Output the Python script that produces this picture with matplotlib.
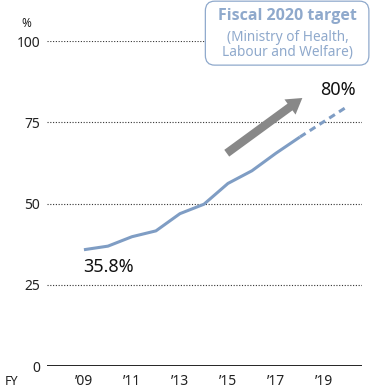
import matplotlib
matplotlib.use("Agg")
import matplotlib.pyplot as plt
from matplotlib.patches import FancyBboxPatch

plt.rcParams['font.family'] = ['Noto Sans', 'DejaVu Sans']

years = [2009, 2010, 2011, 2012, 2013, 2014, 2015, 2016, 2017, 2018]
share = [35.8, 36.9, 39.8, 41.6, 46.9, 49.8, 56.2, 60.1, 65.5, 70.5]
target_years = [2018, 2020]
target_share = [70.5, 80.0]
yticks = [0, 25, 50, 75, 100]
xticks = [2009, 2011, 2013, 2015, 2017, 2019]
xtick_labels = ["\u201909", "\u201911", "\u201913", "\u201915", "\u201917", "\u201919"]

line_color = "#7f9dc4"
box_color = "#8fa9cc"

fig = plt.figure(figsize=(3.7, 3.9), dpi=100)
ax = fig.add_axes([0.127, 0.0615, 0.851, 0.833])
ax.set_xlim(2007.46, 2020.58)
ax.set_ylim(0, 100)

for y in yticks[1:]:
    ax.axhline(y, color="#333333", lw=0.8, ls=(0, (1, 1.5)), zorder=1)
ax.axhline(0, color="black", lw=1.2, zorder=2)

ax.plot(years, share, color=line_color, lw=2.2, solid_capstyle="butt", zorder=3)
ax.plot(target_years, target_share, color=line_color, lw=2.2, ls=(0, (2.2, 1.6)), zorder=3)

for s in ax.spines.values():
    s.set_visible(False)
ax.set_yticks(yticks)
ax.set_yticklabels([str(v) for v in yticks], fontsize=10, color="#222222")
ax.set_xticks(xticks)
ax.set_xticklabels(xtick_labels, fontsize=10, color="#222222")
ax.tick_params(length=0)
ax.tick_params(axis="x", pad=6)
ax.tick_params(axis="y", pad=5)

fig.text(0.070, 0.941, "%", fontsize=8.5, color="#222222", ha="center", va="center")
fig.text(0.013, 0.023, "FY", fontsize=9, color="#222222", ha="left", va="center")

ax.text(years[0] - 0.05, share[0] - 5.2, f"{share[0]}%", fontsize=13, color="#111111", ha="left", va="center")
ax.text(target_years[-1] - 0.4, target_share[-1] + 5.0, f"{target_share[-1]:.0f}%", fontsize=13,
        color="#111111", ha="center", va="center")

ax.annotate("", xy=(2018.1, 82.5), xytext=(2014.95, 65.5),
            arrowprops=dict(arrowstyle="simple,head_length=1.1,head_width=1.35,tail_width=0.6",
                            color="#888888", lw=0, shrinkA=0, shrinkB=0), zorder=4)

box = FancyBboxPatch((0.555, 0.833), 0.442, 0.164, transform=fig.transFigure,
                     boxstyle="round,pad=0,rounding_size=0.025", fc="white", ec=box_color, lw=0.9)
fig.patches.append(box)
fig.text(0.777, 0.960, "Fiscal 2020 target", fontsize=11.5, fontweight="bold", color=box_color,
         ha="center", va="center", family=["Open Sans", "DejaVu Sans"])
fig.text(0.777, 0.885, "(Ministry of Health,\nLabour and Welfare)", fontsize=9.8, color=box_color,
         ha="center", va="center", linespacing=0.95)

fig.savefig("out.png", dpi=100)
